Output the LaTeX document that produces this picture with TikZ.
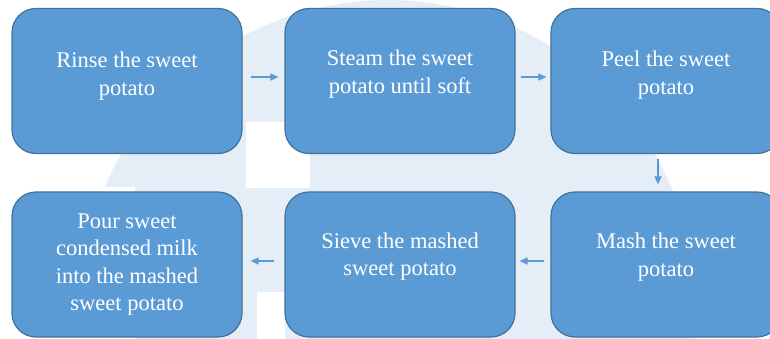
\documentclass[tikz,border=0pt]{standalone}
\usepackage{fontspec}
\setmainfont{Liberation Serif}
\usetikzlibrary{arrows.meta}

\begin{document}
\begin{tikzpicture}[
    x=1pt, y=1pt,
    every node/.style={font=\fontsize{22.5}{27.5}\selectfont},
]

% ---------------------------------------------------------------- colours
\definecolor{c1}{HTML}{5B9BD5}   % box fill, and the arrows
\definecolor{c2}{HTML}{41719C}   % box outline
\definecolor{c3}{HTML}{E5EDF6}   % faint mark behind the boxes

\tikzset{
    stepbox/.style={rectangle, rounded corners=24pt, minimum width=230pt,
                    minimum height=145pt, draw=c2, line width=1.2pt, fill=c1},
    steptext/.style={align=center, text=white, inner sep=0pt},
    flow/.style={-{Triangle[length=8pt, width=7pt]}, line width=1.4pt, draw=c1},
}

\useasboundingbox (0,0) rectangle (770,338);
\clip (0,0) rectangle (770,338);

% ================================================================
% Two rows of three steps, read as a snake:
%   columns   x = 127, 400, 666
%   top row   y = 257     bottom row   y = 73.5
% ================================================================

% ---------------------------------------------------------------- the mark
\fill[c3] (388,30) circle[radius=308];
\fill[white] (246,150) rectangle (310,216);
\fill[white] (257,-1) rectangle (285,46);
\fill[white] (-1,-1) rectangle (135,151);

% ---------------------------------------------------------------- boxes
\foreach \n/\x/\y in {rinse/127/257, steam/400/257, peel/666/257,
                      mash/666/73.5, sieve/400/73.5, pour/127/73.5}
    \node[stepbox] (\n) at (\x,\y) {};

% ---------------------------------------------------------------- texts
\node[steptext] (rinse-t) at (127,262)  {Rinse the sweet\\potato};
\node[steptext] (steam-t) at (400,264)  {Steam the sweet\\potato until soft};
\node[steptext] (peel-t)  at (666,263)  {Peel the sweet\\potato};
\node[steptext] (mash-t)  at (666,81)   {Mash the sweet\\potato};
\node[steptext] (sieve-t) at (400,81.3) {Sieve the mashed\\sweet potato};
\node[steptext] (pour-t)  at (127,73.3)
    {Pour sweet\\condensed milk\\into the mashed\\sweet potato};

% ---------------------------------------------------------------- arrows
\draw[flow, shorten <=8pt, shorten >=6pt]
    ([yshift=4pt]rinse.east) -- ([yshift=4pt]steam.west);
\draw[flow, shorten <=5pt, shorten >=4pt]
    ([yshift=4pt]steam.east) -- ([yshift=4pt]peel.west);
\draw[flow, shorten <=4.5pt, shorten >=7pt]
    ([xshift=-8pt]peel.south) -- ([xshift=-8pt]mash.north);
\draw[flow, shorten <=6pt, shorten >=4pt]
    ([yshift=3.5pt]mash.west) -- ([yshift=3.5pt]sieve.east);
\draw[flow, shorten <=10pt, shorten >=8pt]
    ([yshift=3.5pt]sieve.west) -- ([yshift=3.5pt]pour.east);

\end{tikzpicture}
\end{document}
